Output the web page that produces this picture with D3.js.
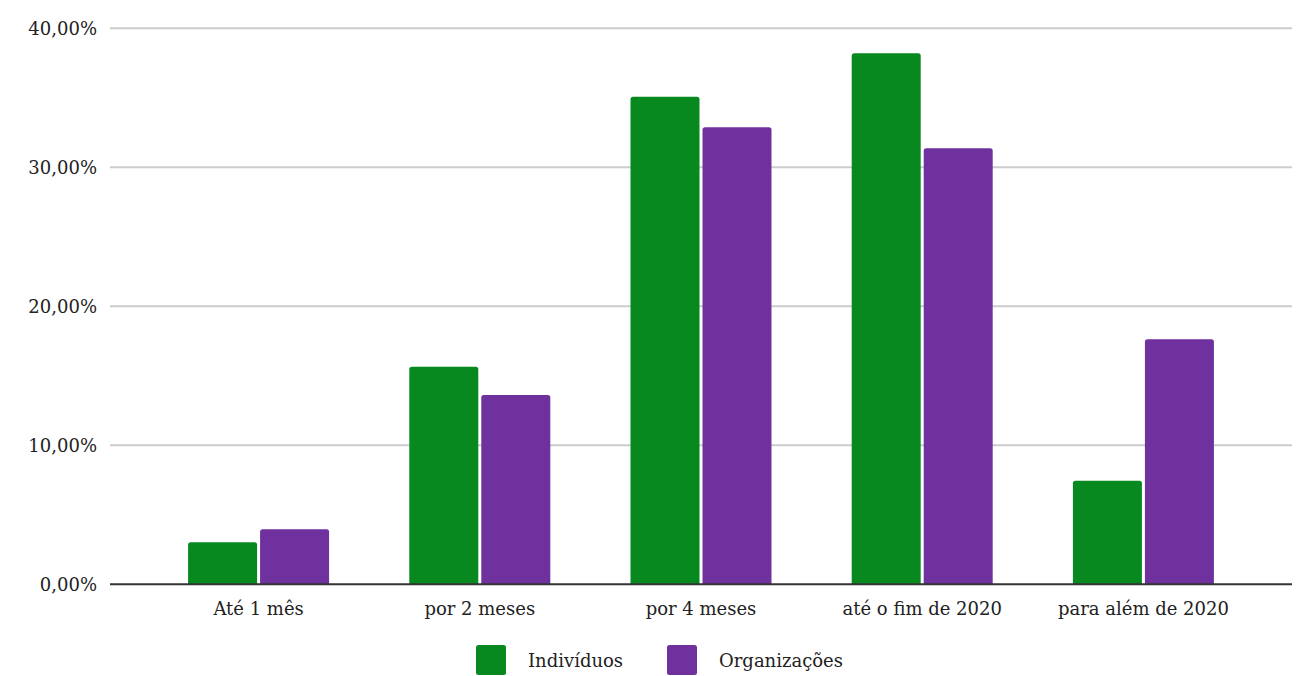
<!DOCTYPE html>
<html><head><meta charset="utf-8">
<script src="https://cdn.jsdelivr.net/npm/d3@7"></script>
<style>
html,body{margin:0;padding:0;background:#fff;}
text{font-family:"DejaVu Serif",serif;fill:#222;}
</style></head>
<body><svg id="c" width="1306" height="676"></svg>
<script>
const categories = ["Até 1 mês","por 2 meses","por 4 meses","até o fim de 2020","para além de 2020"];
const seriesNames = ["Indivíduos","Organizações"];
const individuos = [3.02, 15.65, 35.08, 38.2, 7.45];
const organizacoes = [3.96, 13.62, 32.88, 31.37, 17.63];
const yTicks = [0, 10, 20, 30, 40];
const yTickLabels = ["0,00%","10,00%","20,00%","30,00%","40,00%"];
const colors = ["#07891f","#6f319e"];
const FONT = "DejaVu Serif";
const FS = 18;

const svg = d3.select("#c");
const x0 = d3.scaleBand().domain(categories).range([110,1292]).paddingInner(0.3626).paddingOuter(0.353);
const x1 = d3.scaleBand().domain(seriesNames).range([0,x0.bandwidth()]).paddingInner(0.0417).paddingOuter(0);
const y = d3.scaleLinear().domain([0,40]).range([584.3,28.3]);

// gridlines
svg.append("g").selectAll("line").data(yTicks.filter(d=>d>0)).join("line")
  .attr("x1",110).attr("x2",1292)
  .attr("y1",d=>y(d)).attr("y2",d=>y(d))
  .attr("stroke","#cccccc").attr("stroke-width",2);

// y axis labels
const yAxis = d3.axisLeft(y).tickValues(yTicks).tickFormat((d,i)=>yTickLabels[i]).tickSize(0).tickPadding(0);
const ya = svg.append("g").attr("transform","translate(97,0)").call(yAxis);
ya.select(".domain").remove();
ya.selectAll("text").attr("font-size",FS).attr("font-family",FONT).attr("fill","#222").attr("dy","0.35em");

// bars
const data = categories.map((c,i)=>({c, vals:[individuos[i],organizacoes[i]]}));
const r = 2.5;
function barPath(xl,w,yt,yb){
  return `M${xl},${yb}V${yt+r}Q${xl},${yt} ${xl+r},${yt}H${xl+w-r}Q${xl+w},${yt} ${xl+w},${yt+r}V${yb}Z`;
}
svg.append("g").selectAll("g").data(data).join("g")
  .attr("transform",d=>`translate(${x0(d.c)},0)`)
  .selectAll("path").data(d=>d.vals.map((v,j)=>({v,s:seriesNames[j],j}))).join("path")
  .attr("d",d=>barPath(x1(d.s),x1.bandwidth(),y(d.v),y(0)))
  .attr("fill",d=>colors[d.j]);

// x axis baseline
const xAxis = d3.axisBottom(x0).tickSize(0).tickPadding(0);
const xa = svg.append("g").attr("transform",`translate(0,${y(0)})`).call(xAxis);
xa.select(".domain").attr("stroke","#333").attr("stroke-width",2).attr("d","M110,0H1292");
xa.selectAll("text").attr("font-size",FS).attr("font-family",FONT).attr("fill","#222").attr("dy","0").attr("y",31);

// legend
const legendX = [476, 667];
const lg = svg.append("g");
seriesNames.forEach((s,i)=>{
  lg.append("rect").attr("x",legendX[i]).attr("y",645).attr("width",30).attr("height",30).attr("rx",2.5).attr("fill",colors[i]);
  lg.append("text").attr("x",legendX[i]+52).attr("y",667).attr("font-size",FS).attr("font-family",FONT).text(s);
});
</script></body></html>
